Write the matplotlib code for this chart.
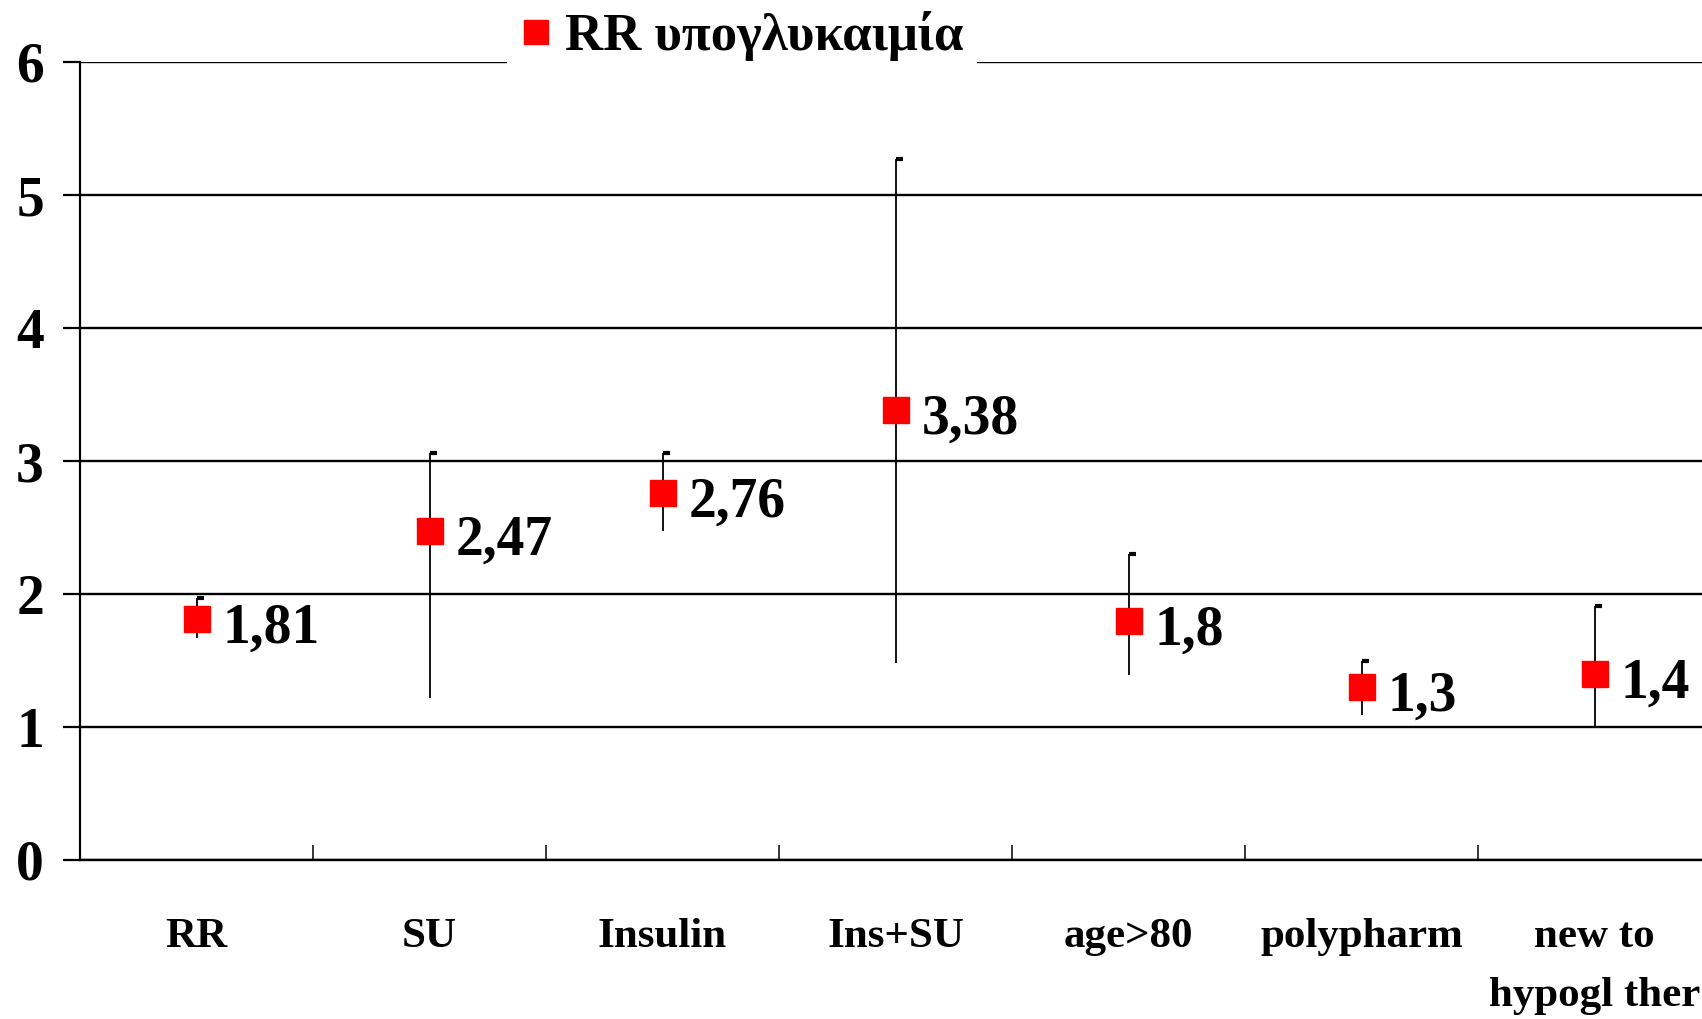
import matplotlib
matplotlib.use("Agg")
import matplotlib.pyplot as plt
from matplotlib.ticker import FixedLocator

plt.rcParams['font.family'] = ['Liberation Serif', 'DejaVu Serif']
plt.rcParams['font.weight'] = 'bold'

categories = ["RR", "SU", "Insulin", "Ins+SU", "age>80", "polypharm", "new to\nhypogl ther"]
rr_values = [1.81, 2.47, 2.76, 3.38, 1.8, 1.3, 1.4]
ci_low = [1.67, 1.22, 2.47, 1.48, 1.39, 1.09, 1.00]
ci_high = [1.97, 3.06, 3.06, 5.27, 2.30, 1.50, 1.91]
value_labels = ["1,81", "2,47", "2,76", "3,38", "1,8", "1,3", "1,4"]
legend_label = "RR υπογλυκαιμία"
y_ticks = [0, 1, 2, 3, 4, 5, 6]

W, H = 1702, 1019
fig = plt.figure(figsize=(W / 100, H / 100), dpi=100)
left = 80 / W
bottom = 1 - 860 / H
top = 1 - 62 / H
right = (80 + 7 * 233) / W
ax = fig.add_axes([left, bottom, right - left, top - bottom])

x = list(range(len(categories)))

# error lines
ax.vlines(x, ci_low, ci_high, colors='black', linewidth=1.3, zorder=3)
# one-sided top caps
ax.plot(x, ci_high, linestyle='none', marker=[(0, 0), (1, 0)], markersize=10,
        markeredgewidth=3, color='black', zorder=3)
# points
ax.plot(x, rr_values, linestyle='none', marker='s', markersize=19,
        color='#ff0000', markeredgecolor='#ff0000', zorder=4, label=legend_label)

for xi, yi, lab in zip(x, rr_values, value_labels):
    ax.annotate(lab, (xi, yi), xytext=(19, -17), textcoords='offset points',
                ha='left', va='baseline', fontsize=40, fontweight='bold', zorder=5)

ax.set_xlim(-0.5, len(categories) - 0.5)
ax.set_ylim(0, 6)
ax.set_yticks(y_ticks)
ax.set_yticklabels([str(t) for t in y_ticks])
ax.set_xticks(x)
ax.set_xticklabels(categories, linespacing=1.7)
ax.xaxis.set_minor_locator(FixedLocator([i + 0.5 for i in range(len(categories) - 1)]))

ax.tick_params(axis='x', which='major', length=0, pad=42, labelsize=31)
ax.tick_params(axis='x', which='minor', direction='in', length=11, width=1.1, color='black')
ax.tick_params(axis='y', which='major', direction='out', length=12, width=1.6,
               pad=14, labelsize=40)
for lab in ax.get_xticklabels() + ax.get_yticklabels():
    lab.set_fontweight('bold')

ax.yaxis.grid(True, color='black', linewidth=1.7)
ax.set_axisbelow(True)
for s in ['top', 'right']:
    ax.spines[s].set_visible(False)
ax.spines['left'].set_linewidth(1.6)
ax.spines['bottom'].set_linewidth(1.7)
ax.spines['left'].set_zorder(2)

leg = fig.legend(loc='center', bbox_to_anchor=(742 / W, 1 - 36 / H),
                 prop={'family': 'Liberation Serif', 'weight': 'bold', 'size': 38},
                 frameon=True, facecolor='white', edgecolor='none', framealpha=1,
                 handlelength=0.6, handletextpad=0.25, borderpad=0.25, fancybox=False,
                 markerscale=0.9)

fig.savefig('out.png', dpi=100)
